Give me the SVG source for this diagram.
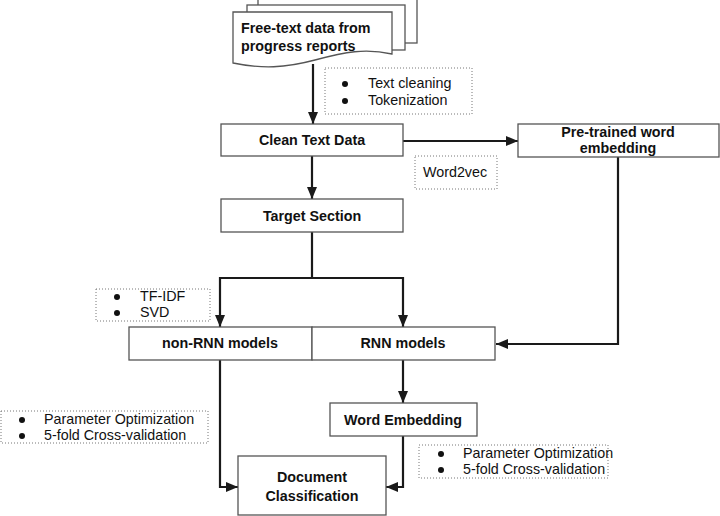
<svg xmlns="http://www.w3.org/2000/svg" width="720" height="516" viewBox="0 0 720 516">
<defs>
<style>
.box{fill:#fff;stroke:#555;stroke-width:1.3}
.dot{fill:none;stroke:#777;stroke-width:1;stroke-dasharray:1,2}
.b{font-family:"Liberation Sans",Arial,sans-serif;font-size:14.3px;font-weight:bold;fill:#111;text-anchor:middle}
.bl{text-anchor:start}
.t{font-family:"Liberation Sans",Arial,sans-serif;font-size:14.3px;fill:#111}
.bul{fill:#111}
.c{fill:none;stroke:#1a1a1a;stroke-width:2.2}
</style>
<marker id="ah" viewBox="0 0 12 10" refX="12" refY="5" markerWidth="12" markerHeight="10" markerUnits="userSpaceOnUse" orient="auto">
<path d="M0,0 L12,5 L0,10 Z" fill="#1a1a1a"/>
</marker>
</defs>
<rect width="720" height="516" fill="#fff"/>

<g id="connectors">
<line class="c" x1="313" y1="64" x2="313" y2="124" marker-end="url(#ah)"/>
<line class="c" x1="403" y1="141" x2="518" y2="141" marker-end="url(#ah)"/>
<line class="c" x1="312" y1="156" x2="312" y2="199" marker-end="url(#ah)"/>
<polyline class="c" points="312,232 312,278 220,278 220,327" marker-end="url(#ah)"/>
<polyline class="c" points="312,278 403,278 403,327" marker-end="url(#ah)"/>
<polyline class="c" points="618,156 618,344 496,344" marker-end="url(#ah)"/>
<line class="c" x1="403" y1="360" x2="403" y2="403" marker-end="url(#ah)"/>
<polyline class="c" points="220,360 220,487 238,487" marker-end="url(#ah)"/>
<polyline class="c" points="403,436 403,487 386,487" marker-end="url(#ah)"/>
</g>

<g id="free-text">
<rect class="box" x="258" y="-2" width="159" height="45"/>
<rect class="box" x="247" y="5" width="158" height="45"/>
<path class="box" d="M233,12 H392 V54 C365,48 345,52 315,60 C285,68 262,69 233,63 Z"/>
<text class="b bl" x="241" y="33">Free-text data from</text>
<text class="b bl" x="241" y="51">progress reports</text>
</g>

<g id="preprocess-note">
<rect class="dot" x="325" y="68" width="147" height="46"/>
<circle class="bul" cx="345" cy="84" r="3"/>
<circle class="bul" cx="345" cy="101" r="3"/>
<text class="t" x="368" y="88">Text cleaning</text>
<text class="t" x="368" y="105">Tokenization</text>
</g>

<g id="clean-text">
<rect class="box" x="221" y="124" width="182" height="32"/>
<text class="b" x="312" y="145">Clean Text Data</text>
</g>

<g id="pretrained">
<rect class="box" x="518" y="124" width="201" height="33"/>
<text class="b" x="618" y="137">Pre-trained word</text>
<text class="b" x="618" y="153">embedding</text>
</g>

<g id="word2vec-note">
<rect class="dot" x="415" y="156" width="82" height="33"/>
<text class="t" x="423" y="177">Word2vec</text>
</g>

<g id="target-section">
<rect class="box" x="221" y="199" width="182" height="33"/>
<text class="b" x="312" y="221">Target Section</text>
</g>

<g id="tfidf-note">
<rect class="dot" x="96" y="289" width="114" height="32"/>
<circle class="bul" cx="117" cy="297" r="3"/>
<circle class="bul" cx="117" cy="313" r="3"/>
<text class="t" x="140" y="301">TF-IDF</text>
<text class="t" x="140" y="317">SVD</text>
</g>

<g id="non-rnn">
<rect class="box" x="129" y="327" width="183" height="33"/>
<text class="b" x="220" y="348">non-RNN models</text>
</g>

<g id="rnn">
<rect class="box" x="312" y="327" width="183" height="33"/>
<text class="b" x="403" y="348">RNN models</text>
</g>

<g id="word-embedding">
<rect class="box" x="330" y="403" width="147" height="33"/>
<text class="b" x="403" y="425">Word Embedding</text>
</g>

<g id="param-note-left">
<rect class="dot" x="1" y="411" width="207" height="32"/>
<circle class="bul" cx="22" cy="420" r="3"/>
<circle class="bul" cx="22" cy="436" r="3"/>
<text class="t" x="44" y="424">Parameter Optimization</text>
<text class="t" x="44" y="440">5-fold Cross-validation</text>
</g>

<g id="param-note-right">
<rect class="dot" x="419" y="445" width="189" height="33"/>
<circle class="bul" cx="441" cy="454" r="3"/>
<circle class="bul" cx="441" cy="470" r="3"/>
<text class="t" x="463" y="458">Parameter Optimization</text>
<text class="t" x="463" y="474">5-fold Cross-validation</text>
</g>

<g id="doc-classification">
<rect class="box" x="238" y="456" width="148" height="59"/>
<text class="b" x="312" y="482">Document</text>
<text class="b" x="312" y="501">Classification</text>
</g>
</svg>
